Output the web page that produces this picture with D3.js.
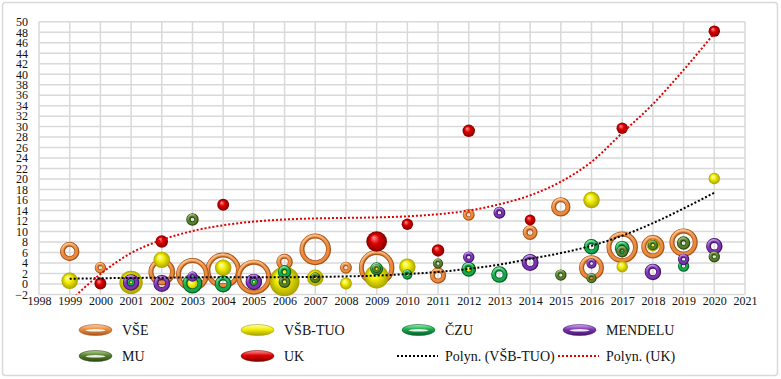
<!DOCTYPE html>
<html>
<head>
<meta charset="utf-8">
<script src="https://cdn.jsdelivr.net/npm/d3@7"></script>
<style>
    body { margin: 0; background: #fff; }
    svg text { font-family: "Liberation Serif", "Times New Roman", Times, "Liberation Sans", Arial, sans-serif; fill: #111; }
</style>
</head>
<body>
<svg id="chart" width="781" height="379"></svg>
<script>
"use strict";

// ---- data ----
const seriesNames = ["VŠE", "VŠB-TUO", "ČZU", "MENDELU", "MU", "UK"];

const vseYears  = [1999, 2000, 2002, 2003, 2004, 2005, 2006, 2007, 2008, 2009, 2011, 2012, 2014, 2015, 2016, 2017, 2018, 2019];
const vseValues = [6.2, 3.1, 2.3, 1.8, 2.6, 1.3, 4.2, 6.6, 3.1, 3.1, 1.6, 13.2, 9.8, 14.7, 3.1, 7.0, 7.1, 7.9];
const vseSizes  = [29, 10, 55, 84, 98, 95, 21, 77, 11, 98, 20, 11, 17, 29, 48, 77, 42, 62];

const vsbYears  = [1999, 2001, 2002, 2003, 2004, 2005, 2006, 2007, 2008, 2009, 2010, 2012, 2016, 2017, 2018, 2020];
const vsbValues = [0.6, 0.3, 4.6, 0.0, 3.1, 0.4, 0.5, 1.2, 0.1, 1.4, 3.3, 2.8, 16.0, 3.3, 7.4, 20.1];
const vsbSizes  = [21, 42, 21, 15, 21, 12, 69, 21, 11, 44, 21, 8, 21, 10, 12, 10];

const czuYears  = [2001, 2003, 2004, 2005, 2006, 2009, 2010, 2012, 2013, 2016, 2017, 2019];
const czuValues = [0.3, 0.1, 0.0, 0.4, 2.3, 2.9, 1.8, 2.8, 1.8, 7.1, 6.8, 3.4];
const czuSizes  = [5, 31, 22, 5, 14, 13, 8, 17, 21, 18, 17, 10];

const mendeluYears  = [2001, 2002, 2003, 2005, 2012, 2013, 2014, 2016, 2018, 2019, 2020];
const mendeluValues = [0.3, 0.1, 1.4, 0.4, 5.1, 13.6, 4.1, 3.9, 2.3, 4.7, 7.2];
const mendeluSizes  = [21, 22, 8, 21, 10, 11, 22, 8, 21, 10, 21];

const muYears  = [2003, 2006, 2007, 2009, 2011, 2015, 2016, 2017, 2018, 2019, 2020];
const muValues = [12.3, 0.4, 1.2, 2.9, 3.9, 1.7, 1.1, 6.2, 7.4, 7.8, 5.2];
const muSizes  = [12, 11, 9, 6, 8, 10, 8, 11, 8, 14, 10];

const ukYears  = [2000, 2002, 2004, 2009, 2010, 2011, 2012, 2014, 2017, 2020];
const ukValues = [0.1, 8.1, 15.1, 8.1, 11.4, 6.4, 29.2, 12.2, 29.7, 48.2];
const ukSizes  = [11, 12, 11, 33, 10, 12, 12, 9, 10, 10];

// polynomial trend lines as they appear in the picture
const trendYears = [1999, 2000, 2001, 2002, 2003, 2004, 2005, 2006, 2007, 2008, 2009, 2010,
                    2011, 2012, 2013, 2014, 2015, 2016, 2017, 2018, 2019, 2020];
const trendVsb = [1.0, 1.1, 1.15, 1.2, 1.25, 1.3, 1.3, 1.3, 1.35, 1.45, 1.6, 1.9,
                  2.3, 2.9, 3.7, 4.8, 5.9, 7.3, 9.2, 11.6, 14.4, 17.4];
const trendUk = [-3.3, 1.9, 5.9, 8.4, 10.1, 11.2, 11.9, 12.3, 12.5, 12.6, 12.7, 12.9,
                 13.3, 14.0, 15.2, 16.9, 19.5, 23.3, 28.8, 34.3, 40.8, 47.8];

const xTicks = [1998, 1999, 2000, 2001, 2002, 2003, 2004, 2005, 2006, 2007, 2008, 2009,
                2010, 2011, 2012, 2013, 2014, 2015, 2016, 2017, 2018, 2019, 2020, 2021];
const yTicks = [-2, 0, 2, 4, 6, 8, 10, 12, 14, 16, 18, 20, 22, 24, 26, 28, 30, 32, 34, 36,
                38, 40, 42, 44, 46, 48, 50];

// ---- styles ----
const series = [
    { years: vseYears, values: vseValues, sizes: vseSizes, ring: true,  base: "#e98a3e", dark: "#a9561c", light: "#fbd2a8" },
    { years: vsbYears, values: vsbValues, sizes: vsbSizes, ring: false, base: "#f2ee00", dark: "#a8a000", light: "#ffffc8" },
    { years: czuYears, values: czuValues, sizes: czuSizes, ring: true,  base: "#16a84a", dark: "#07602a", light: "#9ff0b4" },
    { years: mendeluYears, values: mendeluValues, sizes: mendeluSizes, ring: true, base: "#7a34b0", dark: "#46176e", light: "#d2b0f0" },
    { years: muYears, values: muValues, sizes: muSizes, ring: true,  base: "#567f2c", dark: "#2e4a14", light: "#b4d494" },
    { years: ukYears, values: ukValues, sizes: ukSizes, ring: false, base: "#e00000", dark: "#800000", light: "#ff9a9a" }
];

const svg = d3.select("#chart");
const defs = svg.append("defs");

const x = d3.scaleLinear().domain([1998, 2021]).range([39, 745]);
const y = d3.scaleLinear().domain([-2, 50]).range([294.5, 21.7]);
const rScale = d3.scaleSqrt().domain([0, 100]).range([0, 18]);

// outer frame
svg.append("rect")
    .attr("x", 2.5).attr("y", 2.5)
    .attr("width", 775).attr("height", 373)
    .attr("rx", 3)
    .attr("fill", "#fff")
    .attr("stroke", "#d9d9d9")
    .attr("stroke-width", 1.5);

// gradients
series.forEach(function (s, i) {
    const sph = defs.append("radialGradient")
        .attr("id", "sph" + i)
        .attr("cx", "50%").attr("cy", "50%").attr("r", "50%")
        .attr("fx", "35%").attr("fy", "30%");
    sph.append("stop").attr("offset", "0").attr("stop-color", s.light);
    sph.append("stop").attr("offset", "0.45").attr("stop-color", s.base);
    sph.append("stop").attr("offset", "1").attr("stop-color", s.dark);

    const hl = defs.append("linearGradient")
        .attr("id", "hl" + i)
        .attr("x1", 0).attr("y1", 0).attr("x2", 0.3).attr("y2", 1);
    hl.append("stop").attr("offset", "0").attr("stop-color", s.light).attr("stop-opacity", 0.95);
    hl.append("stop").attr("offset", "0.4").attr("stop-color", s.light).attr("stop-opacity", 0.35);
    hl.append("stop").attr("offset", "0.65").attr("stop-color", s.light).attr("stop-opacity", 0);

    const lg = defs.append("linearGradient")
        .attr("id", "lg" + i)
        .attr("x1", 0).attr("y1", 0).attr("x2", 0).attr("y2", 1);
    lg.append("stop").attr("offset", "0").attr("stop-color", s.light);
    lg.append("stop").attr("offset", "0.45").attr("stop-color", s.base);
    lg.append("stop").attr("offset", "1").attr("stop-color", s.dark);
});

defs.append("clipPath").attr("id", "plotClip")
    .append("rect")
    .attr("x", x(1998)).attr("y", y(50))
    .attr("width", x(2021) - x(1998))
    .attr("height", y(-2) - y(50));

// grid
const grid = svg.append("g").attr("stroke", "#d9d9d9").attr("stroke-width", 1.5);
grid.selectAll("line.h").data(yTicks).enter().append("line")
    .attr("class", "h")
    .attr("x1", x(1998)).attr("x2", x(2021))
    .attr("y1", d => y(d)).attr("y2", d => y(d));
grid.selectAll("line.v").data(xTicks).enter().append("line")
    .attr("class", "v")
    .attr("x1", d => x(d)).attr("x2", d => x(d))
    .attr("y1", y(50)).attr("y2", y(-2));

// axes (labels only)
const yAxis = svg.append("g")
    .attr("transform", `translate(${x(1998)},0)`)
    .call(d3.axisLeft(y).tickValues(yTicks).tickSize(0).tickPadding(11));
const xAxis = svg.append("g")
    .attr("transform", `translate(0,${y(-2)})`)
    .call(d3.axisBottom(x).tickValues(xTicks).tickFormat(d3.format("d")).tickSize(0).tickPadding(1.5));
[yAxis, xAxis].forEach(function (a) {
    a.attr("font-family", null);
    a.select(".domain").remove();
    a.selectAll("text")
        .attr("font-size", 12)
        .attr("fill", "#111");
});

// bubbles
function ringWidth(r) {
    return Math.min(r * 0.72, 5);
}

series.forEach(function (s, i) {
    const pts = s.years.map((yr, k) => ({ year: yr, value: s.values[k], size: s.sizes[k] }))
        .sort((a, b) => b.size - a.size);
    const g = svg.append("g").attr("class", "series" + i);
    const b = g.selectAll("g").data(pts).enter().append("g")
        .attr("transform", d => `translate(${x(d.year)},${y(d.value)})`);

    if (!s.ring) {
        b.append("circle")
            .attr("r", d => rScale(d.size))
            .attr("fill", `url(#sph${i})`);
    } else {
        b.append("circle")
            .attr("r", d => rScale(d.size) - ringWidth(rScale(d.size)) / 2)
            .attr("fill", "none")
            .attr("stroke", s.dark)
            .attr("stroke-width", d => ringWidth(rScale(d.size)));
        b.append("circle")
            .attr("r", d => rScale(d.size) - ringWidth(rScale(d.size)) / 2)
            .attr("transform", "translate(-0.3,-0.3)")
            .attr("fill", "none")
            .attr("stroke", s.base)
            .attr("stroke-width", d => ringWidth(rScale(d.size)) * 0.6);
        b.append("circle")
            .attr("r", d => rScale(d.size) - ringWidth(rScale(d.size)) / 2)
            .attr("transform", "translate(-0.4,-0.7)")
            .attr("fill", "none")
            .attr("stroke", `url(#hl${i})`)
            .attr("stroke-width", d => ringWidth(rScale(d.size)) * 0.35);
    }
});

// trend lines
const line = d3.line()
    .x((d, k) => x(trendYears[k]))
    .y(d => y(d))
    .curve(d3.curveMonotoneX);

const trends = svg.append("g").attr("clip-path", "url(#plotClip)");
trends.append("path")
    .attr("d", line(trendVsb))
    .attr("fill", "none")
    .attr("stroke", "#000")
    .attr("stroke-width", 2)
    .attr("stroke-dasharray", "2,2");
trends.append("path")
    .attr("d", line(trendUk))
    .attr("fill", "none")
    .attr("stroke", "#e00000")
    .attr("stroke-width", 2)
    .attr("stroke-dasharray", "2,2");

// legend
const legendCols = [79, 241, 402, 563];
const legendRows = [330, 356];
const legendItems = seriesNames.map((n, i) => ({ name: n, idx: i }))
    .concat([{ name: "Polyn. (VŠB-TUO)", trend: "#000" }, { name: "Polyn. (UK)", trend: "#e00000" }]);

const legend = svg.append("g");
legendItems.forEach(function (it, k) {
    const lx = legendCols[k % 4];
    const ly = legendRows[Math.floor(k / 4)];
    if (it.trend) {
        legend.append("line")
            .attr("x1", lx - 5).attr("x2", lx + 36)
            .attr("y1", ly).attr("y2", ly)
            .attr("stroke", it.trend)
            .attr("stroke-width", 2)
            .attr("stroke-dasharray", "2,2");
    } else {
        const s = series[it.idx];
        legend.append("ellipse")
            .attr("cx", lx + 16.5).attr("cy", ly)
            .attr("rx", 16.5).attr("ry", 5.5)
            .attr("fill", `url(#lg${it.idx})`)
            .attr("stroke", s.dark)
            .attr("stroke-width", 0.6);
        if (s.ring) {
            legend.append("ellipse")
                .attr("cx", lx + 16.5).attr("cy", ly + 0.3)
                .attr("rx", 10).attr("ry", 1.2)
                .attr("fill", "#fff")
                .attr("opacity", 0.9);
        }
    }
    legend.append("text")
        .attr("x", lx + 43)
        .attr("y", ly)
        .attr("dy", "0.35em")
        .attr("font-size", 14)
        .text(it.name);
});
</script>
</body>
</html>
